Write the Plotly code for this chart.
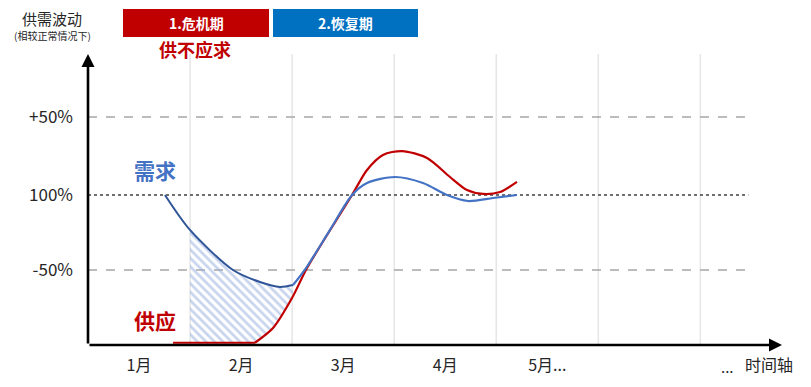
import plotly.graph_objects as go

# ---- data (x in months from the axis origin, y in index where 100 = normal) ----
demand_early_x = [0.754, 0.999, 1.421, 1.685, 1.881, 2.009]
demand_early_y = [100, 76.7, 50, 42, 38.7, 40]
demand_late_x = [2.009, 2.136, 2.371, 2.587, 2.734, 3.008, 3.282, 3.518, 3.723, 3.968, 4.203]
demand_late_y = [40, 51.3, 76.7, 100, 108, 112, 108, 100, 96, 98, 100]

supply_flat_x = [0.833, 1.636]
supply_flat_y = [1.5, 1.5]
supply_x = [1.636, 1.813, 1.999, 2.146, 2.587, 2.734, 2.890, 3.077, 3.322, 3.547, 3.714, 3.870, 4.037, 4.203]
supply_y = [1.5, 11.3, 31.3, 51.3, 100, 116.7, 126.7, 129.3, 124.7, 112, 103.3, 100.7, 102, 108.7]

# shortage (hatched) region boundaries
gap_low_x = [0.999, 1.636, 1.813, 2.009]
gap_low_y = [1.5, 1.5, 11.3, 33]
gap_high_x = [0.999, 1.421, 1.685, 1.881, 2.009]
gap_high_y = [76.7, 50, 42, 38.7, 40]

month_pos = [0.5, 1.5, 2.5, 3.5, 4.5]
month_labels = ["1月", "2月", "3月", "4月", "5月..."]
level_vals = [50, 100, 152]
level_labels = ["-50%", "100%", "+50%"]
grid_months = [1, 2, 3, 4, 5, 6]

FONT = "Noto Sans CJK SC"
RED = "#C00000"
BLUE_BOX = "#0070C0"
BLUE = "#4472C4"
NAVY = "#2F5597"

XMAX = 6.8
YMAX = 194

fig = go.Figure()

# hatched shortage area
fig.add_trace(go.Scatter(x=gap_low_x, y=gap_low_y, mode="lines",
                         line=dict(width=0, shape="spline"), hoverinfo="skip", showlegend=False))
fig.add_trace(go.Scatter(x=gap_high_x, y=gap_high_y, mode="lines",
                         line=dict(width=0, shape="spline"), fill="tonexty",
                         fillcolor="rgba(0,0,0,0)",
                         fillpattern=dict(shape="\\", fgcolor="#8FAADC", bgcolor="rgba(255,255,255,0)",
                                          size=6, solidity=0.45),
                         hoverinfo="skip", showlegend=False))

# supply
fig.add_trace(go.Scatter(x=supply_flat_x, y=supply_flat_y, mode="lines",
                         line=dict(color=RED, width=2.2), showlegend=False, cliponaxis=False))
fig.add_trace(go.Scatter(x=supply_x, y=supply_y, mode="lines",
                         line=dict(color=RED, width=2.2, shape="spline", smoothing=0.8),
                         showlegend=False, cliponaxis=False))
# demand
fig.add_trace(go.Scatter(x=demand_early_x, y=demand_early_y, mode="lines",
                         line=dict(color=NAVY, width=2, shape="spline", smoothing=0.8), showlegend=False))
fig.add_trace(go.Scatter(x=demand_late_x, y=demand_late_y, mode="lines",
                         line=dict(color=BLUE, width=2.2, shape="spline", smoothing=0.8), showlegend=False))

shapes = []
for g in grid_months:
    shapes.append(dict(type="line", xref="x", yref="y", x0=g, x1=g, y0=0, y1=YMAX,
                       line=dict(color="#E6E6E6", width=1.5), layer="below"))
shapes.append(dict(type="line", xref="x", yref="y", x0=0, x1=6.47, y0=152, y1=152,
                   line=dict(color="#A6A6A6", width=1.5, dash="dash"), layer="below"))
shapes.append(dict(type="line", xref="x", yref="y", x0=0, x1=6.47, y0=50, y1=50,
                   line=dict(color="#A6A6A6", width=1.5, dash="dash"), layer="below"))
shapes.append(dict(type="line", xref="x", yref="y", x0=0, x1=6.47, y0=100, y1=100,
                   line=dict(color="#404040", width=1.5, dash="dot"), layer="below"))

# page offset (body margin) compensation
OFF = 8
W, H = 811 - OFF, 387 - OFF
L, R, T, B = 88 - OFF, 29, 54 - OFF, 42
PW, PH = W - L - R, H - T - B


def px(xp):
    return (xp - OFF - L) / PW


def py(yp):
    return (H - B - (yp - OFF)) / PH


shapes.append(dict(type="rect", xref="paper", yref="paper", x0=px(123), x1=px(269), y0=py(37), y1=py(9),
                   fillcolor=RED, line=dict(width=0)))
shapes.append(dict(type="rect", xref="paper", yref="paper", x0=px(273), x1=px(418), y0=py(37), y1=py(9),
                   fillcolor=BLUE_BOX, line=dict(width=0)))

ann = []
# axis arrows
ann.append(dict(x=XMAX, y=0, xref="x", yref="y", ax=-PW, ay=0, axref="pixel", ayref="pixel",
                showarrow=True, arrowhead=2, arrowsize=1, arrowwidth=2.6, arrowcolor="black", text=""))
ann.append(dict(x=0, y=YMAX, xref="x", yref="y", ax=0, ay=PH, showarrow=True, arrowhead=2,
                arrowsize=1, arrowwidth=2.6, arrowcolor="black", text=""))


def txt(x, y, s, size, color, bold=False):
    ann.append(dict(x=px(x), y=py(y), xref="paper", yref="paper", showarrow=False, borderpad=0,
                    text=f"<b>{s}</b>" if bold else s,
                    font=dict(family=FONT, size=size, color=color), xanchor="center", yanchor="middle"))


txt(52, 18, "供需波动", 15, "#262626")
txt(52, 35, "(相较正常情况下)", 10, "#262626")
txt(196, 23, "1.危机期", 14, "white", True)
txt(345, 23, "2.恢复期", 14, "white", True)
txt(195, 49, "供不应求", 18, RED, True)
txt(155, 170, "需求", 21, BLUE, True)
txt(155, 320, "供应", 21, RED, True)
txt(727, 366, "...", 15, "#262626")
txt(769, 364, "时间轴", 16, "#262626")

fig.update_layout(
    width=W, height=H,
    margin=dict(l=L, r=R, t=T, b=B, pad=0, autoexpand=False),
    paper_bgcolor="white", plot_bgcolor="white",
    shapes=shapes, annotations=ann,
    font=dict(family=FONT, color="#262626"),
    xaxis=dict(range=[0, XMAX], showgrid=False, zeroline=False, showline=False,
               tickvals=month_pos, ticktext=month_labels, ticks="", automargin=False,
               tickfont=dict(size=16, color="#262626"), ticklabelstandoff=9),
    yaxis=dict(range=[0, YMAX], showgrid=False, zeroline=False, showline=False,
               tickvals=level_vals, ticktext=level_labels, ticks="", automargin=False,
               tickfont=dict(size=17, color="#262626"), ticklabelstandoff=14),
)

fig.write_html("out.html")
